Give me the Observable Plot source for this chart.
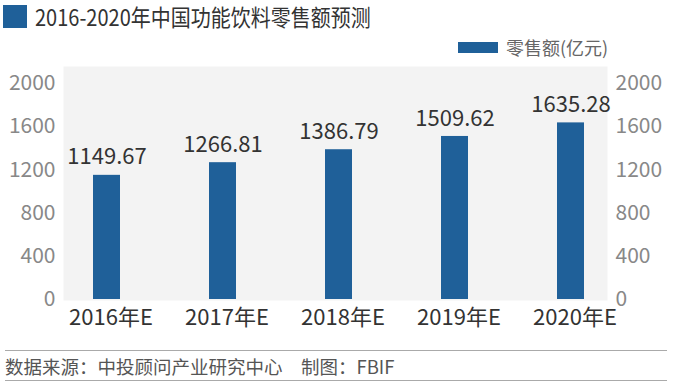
<!DOCTYPE html>
<html><head><meta charset="utf-8">
<script src="https://cdn.jsdelivr.net/npm/d3@7"></script>
<script src="https://cdn.jsdelivr.net/npm/@observablehq/plot@0.6"></script>
<style>
body{margin:0;background:#fff;font-family:"Noto Sans CJK SC","Noto Sans",sans-serif;}
#wrap{position:relative;width:674px;height:386px;overflow:hidden;background:#fff;}
#chart{position:absolute;left:0;top:0;}
.abs{position:absolute;white-space:nowrap;}
#sq{left:3px;top:5px;width:24px;height:23px;background:#1f6099;}
#title{left:35px;top:0;line-height:33px;font-size:20px;color:#333;transform:scaleY(1.15);transform-origin:0 50%;}
#sw{left:458px;top:42px;width:40px;height:11px;background:#1f6099;}
#legend{left:506px;top:35px;line-height:24px;font-size:18px;color:#666;}
.rule{left:5px;width:662px;height:0;border-top:1.5px solid #aaa;}
#footer{left:5px;top:352px;line-height:28px;font-size:18.5px;color:#555;}
</style></head><body>
<div id="wrap">
  <div id="chart"></div>
  <div class="abs" id="sq"></div>
  <div class="abs" id="title">2016-2020年中国功能饮料零售额预测</div>
  <div class="abs" id="sw"></div>
  <div class="abs" id="legend">零售额(亿元)</div>
  <div class="abs rule" style="top:350px"></div>
  <div class="abs" id="footer">数据来源：中投顾问产业研究中心　制图：FBIF</div>
  <div class="abs rule" style="top:380px"></div>
</div>
<script>
const years = ["2016年E","2017年E","2018年E","2019年E","2020年E"];
const sales = [1149.67, 1266.81, 1386.79, 1509.62, 1635.28];
const yTicks = [0, 400, 800, 1200, 1600, 2000];

const table = years.map((y, i) => ({year: y, value: sales[i]}));
const font = '"Noto Sans CJK SC","Noto Sans",sans-serif';

const chart = Plot.plot({
  width: 674, height: 340,
  marginTop: 66, marginBottom: 40, marginLeft: 63, marginRight: 67,
  style: {fontFamily: font, background: "transparent", overflow: "visible"},
  x: {domain: years, paddingInner: 0.768, paddingOuter: 0.198, insetLeft: 6, axis: null, label: null},
  y: {domain: [0, 2000], insetTop: 17, insetBottom: 1, axis: null, label: null},
  marks: [
    Plot.frame({fill: "#f3f3f3", stroke: "none"}),
    Plot.barY(table, {x: "year", y: "value", fill: "#1f6099"}),
    Plot.text(table, {x: "year", y: "value", text: d => d3.format(".2f")(d.value), dy: -18, fontSize: 22, fill: "#333"}),
    Plot.axisY(yTicks, {anchor: "left", tickSize: 0, tickPadding: 8, fontSize: 21, fill: "#888", label: null, tickFormat: d => String(d)}),
    Plot.axisY(yTicks, {anchor: "right", tickSize: 0, tickPadding: 8, fontSize: 21, fill: "#888", label: null, tickFormat: d => String(d)}),
    Plot.axisX({anchor: "bottom", tickSize: 0, tickPadding: 9, fontSize: 22, fill: "#333", dx: 4, label: null})
  ]
});
document.getElementById("chart").appendChild(chart);
</script>
</body></html>
